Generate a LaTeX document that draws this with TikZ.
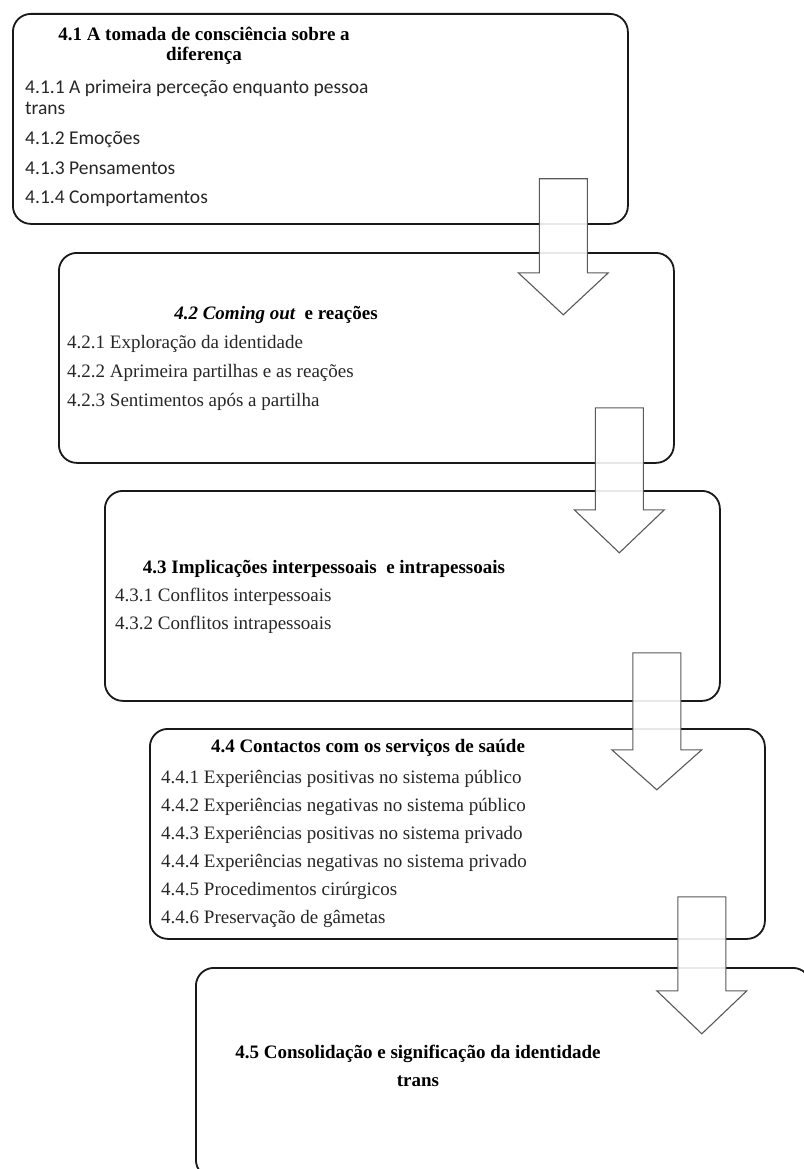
\documentclass[tikz,border=0pt]{standalone}
\usepackage{fontspec}
\setmainfont{Liberation Serif}
\newfontfamily\calibri{Carlito}
\usepackage{tikz}
\usetikzlibrary{positioning,calc}

\begin{document}
\begin{tikzpicture}[x=1pt,y=-1pt,
box/.style={draw=black!90,line width=1.8pt,rounded corners=18pt,minimum width=615pt,minimum height=210pt,anchor=north west,inner sep=0pt},
arr/.style={draw=black!65,line width=1.1pt,fill=white,fill opacity=0.9,line join=miter},
ttl/.style={font=\fontsize{19}{20}\selectfont\bfseries,align=center,anchor=base,inner sep=0pt},
lst/.style={font=\fontsize{19}{21}\selectfont,text=black!85,align=left,anchor=base west,inner sep=0pt}]
\useasboundingbox (0,0) rectangle (803,1169);
\node[box](b1) at (12,13){};
\node[box](b2) at (58,252){};
\node[box](b3) at (104,490){};
\node[box](b4) at (149,728){};
\node[box](b5) at (195,967){};
\node[ttl](t1) at (204,61){4.1 A tomada de consciência sobre a\\diferença};
\node[lst,font=\fontsize{19.5}{21}\selectfont\calibri](l1) at (25,204){4.1.1 A primeira perceção enquanto pessoa\\trans\\[9pt]4.1.2 Emoções\\[9pt]4.1.3 Pensamentos\\[8pt]4.1.4 Comportamentos};
\node[ttl](t2) at (276,319){\itshape 4.2 Coming out\upshape\ \ e reações};
\node[lst](l2) at (67,406){4.2.1 Exploração da identidade\\[8pt]4.2.2 Aprimeira partilhas e as reações\\[8pt]4.2.3 Sentimentos após a partilha};
\node[ttl](t3) at (324,573){4.3 Implicações interpessoais\ \ e intrapessoais};
\node[lst](l3) at (115,629){4.3.1 Conflitos interpessoais\\[6.5pt]4.3.2 Conflitos intrapessoais};
\node[ttl](t4) at (368,752){4.4 Contactos com os serviços de saúde};
\node[lst](l4) at (161,923){4.4.1 Experiências positivas no sistema público\\[7pt]4.4.2 Experiências negativas no sistema público\\[7pt]4.4.3 Experiências positivas no sistema privado\\[7pt]4.4.4 Experiências negativas no sistema privado\\[7pt]4.4.5 Procedimentos cirúrgicos\\[7pt]4.4.6 Preservação de gâmetas};
\node[ttl,font=\fontsize{19}{28}\selectfont\bfseries](t5) at (418,1086){4.5 Consolidação e significação da identidade\\trans};
\coordinate(a1) at ([shift={(-65.5,-46)}]b1.south east);
\coordinate(a2) at ([shift={(-55.5,-56)}]b2.south east);
\coordinate(a3) at ([shift={(-64,-49)}]b3.south east);
\coordinate(a4) at ([shift={(-64,-43)}]b4.south east);
\draw[arr]([xshift=-24pt]a1)--++(48,0)--++(0,94)--++(21,0)--++(-45,42)--++(-45,-42)--++(21,0)--cycle;
\draw[arr]([xshift=-24pt]a2)--++(48,0)--++(0,102)--++(21,0)--++(-45,43)--++(-45,-43)--++(21,0)--cycle;
\draw[arr]([xshift=-24pt]a3)--++(48,0)--++(0,97)--++(21,0)--++(-45,40)--++(-45,-40)--++(21,0)--cycle;
\draw[arr]([xshift=-24pt]a4)--++(48,0)--++(0,94)--++(21,0)--++(-45,43)--++(-45,-43)--++(21,0)--cycle;
\end{tikzpicture}
\end{document}
